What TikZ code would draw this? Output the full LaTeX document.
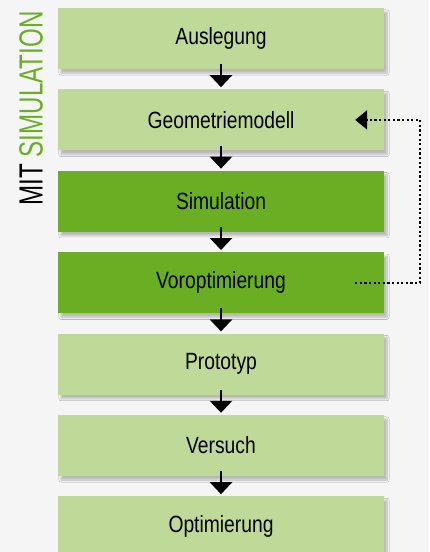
\documentclass[tikz,border=0pt]{standalone}
\usepackage{fontspec}
\setmainfont[FakeStretch=0.82]{Liberation Sans}
\newfontfamily\sidefont[FakeStretch=0.72]{Liberation Sans}
\usetikzlibrary{positioning,arrows.meta,shadows.blur}
\definecolor{lightgreen}{HTML}{BFD999}
\definecolor{darkgreen}{HTML}{6AAF23}
\definecolor{bggray}{HTML}{F5F5F5}
\tikzset{
  stepbox/.style={rectangle,fill=lightgreen,minimum width=326pt,minimum height=61pt,
    inner sep=0pt,font=\fontsize{23.5}{25}\selectfont,
    blur shadow={shadow xshift=3pt,shadow yshift=-4pt,shadow blur steps=8,shadow opacity=25}},
  simbox/.style={stepbox,fill=darkgreen},
  flow/.style={-{Triangle[width=22pt,length=12pt]},line width=2.6pt,shorten <=-5pt},
  loopback/.style={-{Triangle[width=19pt,length=12pt]},line width=2.4pt,
    dash pattern=on 2.2pt off 2.4pt},
}

\begin{document}
\begin{tikzpicture}[x=1pt,y=-1pt,node distance=20pt]

\fill[bggray] (0,0) rectangle (429,552);
\useasboundingbox (0,0) rectangle (429,552);

\node[stepbox] (ausl) at (221,38.5) {Auslegung};
\node[stepbox,below=of ausl] (geo) {Geometriemodell};
\node[simbox,below=of geo] (sim) {Simulation};
\node[simbox,below=of sim] (vor) {Voroptimierung};
\node[stepbox,below=of vor] (proto) {Prototyp};
\node[stepbox,below=of proto] (vers) {Versuch};
\node[stepbox,below=of vers] (opt) {Optimierung};

\foreach \a/\b in {ausl/geo,geo/sim,sim/vor,vor/proto,proto/vers,vers/opt}
  \draw[flow] (\a.south) -- ([yshift=2pt]\b.north);

% feedback loop
\coordinate (vorend) at ([xshift=-29pt]vor.east);
\coordinate (geoend) at ([xshift=-29pt]geo.east);
\coordinate (cornerlow) at ([xshift=36pt]vor.east);
\coordinate (cornerhigh) at ([xshift=36pt]geo.east);
\draw[loopback] (vorend) -- (cornerlow) -- (cornerhigh) -- (geoend);

\node[rotate=90,font=\sidefont\fontsize{33.5}{35}\selectfont,inner sep=0pt] (side) at (31,108.5)
  {MIT \textcolor{darkgreen}{SIMULATION}};

\end{tikzpicture}
\end{document}
